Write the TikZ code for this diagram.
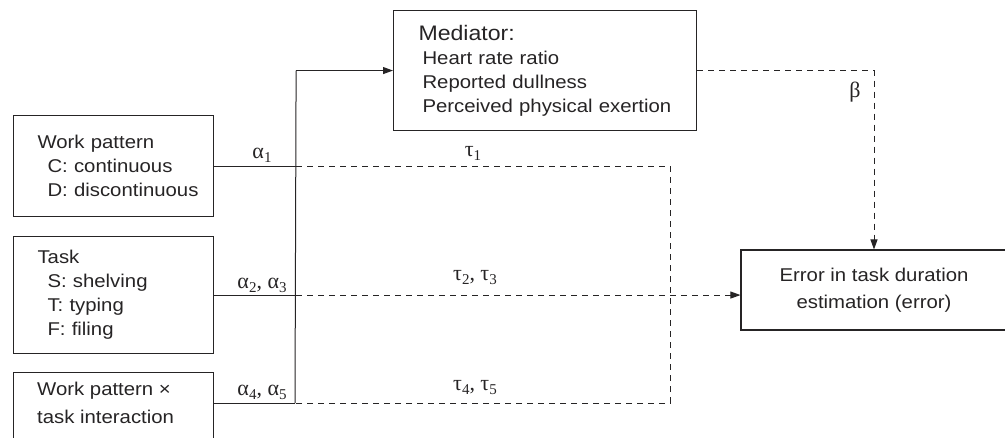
\documentclass[tikz,border=0pt]{standalone}
\usepackage{fontspec}
\setmainfont[FakeStretch=1.1]{Liberation Sans}
\newfontfamily\greekfont{Liberation Serif}
\usetikzlibrary{arrows.meta}
\definecolor{ink}{RGB}{38,36,37}
% left margin of headings and indentation of the sub-items inside the boxes
\newcommand\lead{\hspace*{14pt}}
\newcommand\ind{\hspace*{24pt}}
% lowered subscript for the path coefficients
\newcommand\sbs[1]{\raisebox{-4.5pt}{\fontsize{15}{15}\selectfont #1}}
\begin{document}
\begin{tikzpicture}[x=1pt,y=-1pt,
  box/.style={draw=ink, line width=1.1pt, inner ysep=0pt, text=ink,
    font=\fontsize{18.5}{24}\selectfont},
  leftbox/.style={box, align=left, inner xsep=10pt},
  boxtext/.style={inner sep=0pt, text=ink, align=left},
  link/.style={draw=ink, line width=1pt},
  dashlink/.style={link, dash pattern=on 6pt off 5pt},
  tip/.style={-{Triangle[length=10pt,width=7pt]}},
  coef/.style={font=\greekfont\fontsize{22}{22}\selectfont, text=ink, inner sep=0pt}]
\useasboundingbox (0,0) rectangle (1005,437);
\clip (0,0) rectangle (1005,437);

% predictor boxes
\node[leftbox, anchor=north west, minimum width=200pt, minimum height=101pt,
      text width=180pt] (wp) at (13,115)
  {\lead Work pattern\\\ind C: continuous\\\ind D: discontinuous};
\node[leftbox, anchor=north west, minimum width=200pt, minimum height=117pt,
      text width=180pt] (task) at (13,236)
  {\lead Task\\\ind S: shelving\\\ind T: typing\\\ind F: filing};
\node[box, anchor=north west, minimum width=200pt, minimum height=100pt] (inter) at (13,372) {};
\node[boxtext, anchor=north west, font=\fontsize{18.5}{28}\selectfont] (intertext) at (37,382)
  {Work pattern \texttimes\\task interaction};

% mediator and outcome
\node[box, align=left, anchor=north west, minimum width=303pt, minimum height=120pt,
      inner xsep=25pt, text width=253pt] (med) at (393,10)
  {{\fontsize{21}{24}\selectfont Mediator:}\\
   \hspace*{4pt}Heart rate ratio\\
   \hspace*{4pt}Reported dullness\\
   \hspace*{4pt}Perceived physical exertion};
\node[box, align=center, minimum width=266pt, minimum height=80pt,
      font=\fontsize{18.5}{27}\selectfont] (err) at (874,290)
  {Error in task duration\\estimation (error)};

% junction points
\path (wp.east) -- ++(82,0) coordinate (j1);
\coordinate (j2) at (j1 |- task.east);
\coordinate (j3) at (295,403);
\coordinate (jm) at (j1 |- med.west);
\coordinate (k1) at ([xshift=374pt]j1);
\coordinate (k3) at (k1 |- j3);

% solid paths into the mediator
\draw[link] (wp.east) -- (j1);
\draw[link] (task.east) -- (j2);
\draw[link] (j3 -| inter.east) -- (j3);
\draw[link] (j3) -- (jm);
\draw[link, tip] (jm) -- (med.west);

% dashed direct paths
\draw[dashlink] (j1) -- (k1) -- (k3) -- (j3);
\draw[dashlink, tip] (j2) -- (j2 -| err.west);
\draw[dashlink, tip] (med.east) -| (err.north);

% coefficients
\node[coef, anchor=base] (a1) at (262,158) {α\sbs{1}};
\node[coef, anchor=base] (a23) at (262,288) {α\sbs{2}, α\sbs{3}};
\node[coef, anchor=base] (a45) at (262,395) {α\sbs{4}, α\sbs{5}};
\node[coef, anchor=base] (t1) at (473,156) {τ\sbs{1}};
\node[coef, anchor=base] (t23) at (475,280) {τ\sbs{2}, τ\sbs{3}};
\node[coef, anchor=base] (t45) at (475,390) {τ\sbs{4}, τ\sbs{5}};
\node[coef, anchor=base] (b) at (855,97) {β};
\end{tikzpicture}
\end{document}
